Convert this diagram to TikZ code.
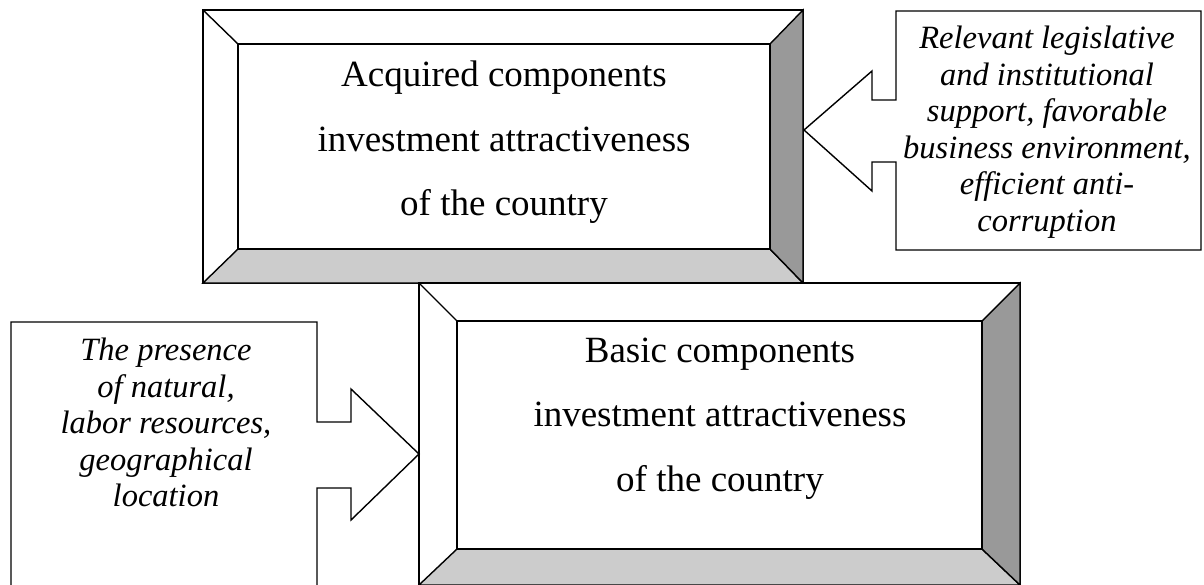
\documentclass[tikz,border=0pt]{standalone}
\usepackage{fontspec}
\setmainfont{Liberation Serif}
\begin{document}
\begin{tikzpicture}[x=1pt,y=-1pt,
  edge/.style={draw=black,line width=1.4pt,line join=miter},
  lightface/.style={edge,fill=black!20},
  darkface/.style={edge,fill=black!40},
  whiteface/.style={edge,fill=white},
  maintext/.style={align=center,inner sep=0pt,font=\fontsize{37}{64.5}\selectfont},
  sidetext/.style={align=center,inner sep=0pt,font=\fontsize{32.5}{36.5}\selectfont\itshape}]
\useasboundingbox (0,0) rectangle (1204,584);
\clip (0,0) rectangle (1204,584);
% ---- top bevel box ----
\draw[whiteface] (203,10) rectangle (803,283);
\draw[lightface] (203,283) -- (803,283) -- (770,249) -- (238,249) -- cycle;
\draw[darkface] (803,10) -- (803,283) -- (770,249) -- (770,44) -- cycle;
\draw[edge] (203,10) -- (238,44);
\draw[edge] (238,44) rectangle (770,249);
\node[maintext] (acq) at (504,142.5) {Acquired components\\investment attractiveness\\of the country};
% ---- right callout ----
\draw[whiteface] (896,11) -- (1201,11) -- (1201,250) -- (896,250) -- (896,162) -- (872,162)
  -- (872,191) -- (804,130) -- (872,71) -- (872,100) -- (896,100) -- cycle;
\node[sidetext] (leg) at (1047,132) {Relevant legislative\\and institutional\\support, favorable\\business environment,\\efficient anti-\\corruption};
% ---- bottom bevel box ----
\draw[whiteface] (419,283) rectangle (1020,585);
\draw[lightface] (419,585) -- (1020,585) -- (982,549) -- (457,549) -- cycle;
\draw[darkface] (1020,283) -- (1020,585) -- (982,549) -- (982,321) -- cycle;
\draw[edge] (419,283) -- (457,321);
\draw[edge] (457,321) rectangle (982,549);
\node[maintext] (bas) at (720,418.5) {Basic components\\investment attractiveness\\of the country};
% ---- left callout ----
\draw[whiteface] (11,600) -- (11,322) -- (317,322) -- (317,422) -- (351,422) -- (351,389)
  -- (419,454) -- (351,520) -- (351,488) -- (317,488) -- (317,600);
\node[sidetext] (nat) at (166,422.5) {The presence\\of natural,\\labor resources,\\geographical\\location};
\end{tikzpicture}
\end{document}
